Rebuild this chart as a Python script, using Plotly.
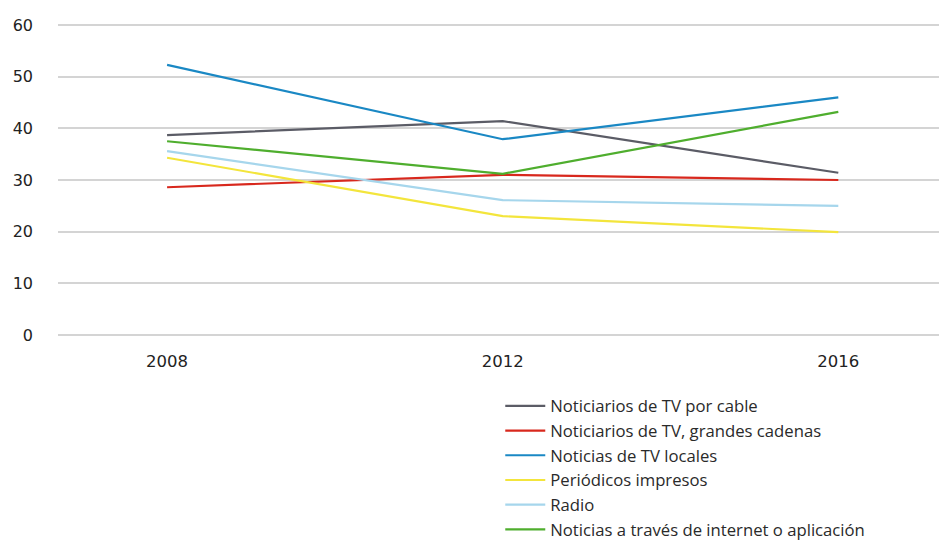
import plotly.graph_objects as go

years = ["2008", "2012", "2016"]
series_names = [
    "Noticiarios de TV por cable",
    "Noticiarios de TV, grandes cadenas",
    "Noticias de TV locales",
    "Periódicos impresos",
    "Radio",
    "Noticias a través de internet o aplicación",
]
cable = [38.7, 41.4, 31.4]
broadcast = [28.6, 31.0, 30.0]
local_tv = [52.3, 37.9, 46.0]
print_news = [34.3, 23.0, 19.9]
radio = [35.6, 26.1, 25.0]
internet = [37.5, 31.2, 43.2]
colors = ["#5b5c66", "#d8281d", "#1a88c4", "#f3e53c", "#a6d6ec", "#4fae2e"]

values = [cable, broadcast, local_tv, print_news, radio, internet]

fig = go.Figure()
for name, vals, col in zip(series_names, values, colors):
    fig.add_trace(go.Scatter(x=[0, 1, 2], y=vals, name=name, mode="lines",
                             line=dict(color=col, width=2.2)))

fnt = "DejaVu Sans, sans-serif"
fig.update_layout(
    width=939, height=543,
    margin=dict(l=58, r=0, t=23, b=206, autoexpand=False),
    paper_bgcolor="white", plot_bgcolor="white",
    font=dict(family=fnt, size=15, color="#333333"),
    showlegend=True,
    legend=dict(x=0.502, y=-0.164, xanchor="left", yanchor="top",
                font=dict(family="Open Sans, sans-serif", size=16.7, color="#2a2a2a"),
                traceorder="normal",
                itemwidth=40, tracegroupgap=0, bgcolor="rgba(0,0,0,0)"),
    xaxis=dict(tickvals=[0, 1, 2], ticktext=years, range=[-0.325, 2.3],
               showgrid=False, zeroline=False, showline=False, ticks="",
               ticklabelstandoff=12,
               tickfont=dict(family=fnt, size=16.5, color="#222222")),
    yaxis=dict(range=[-0.4, 60.4], tickvals=[0, 10, 20, 30, 40, 50, 60],
               showgrid=True, gridcolor="#d4d4d4", gridwidth=2,
               zeroline=False, showline=False, ticks="", ticklabelstandoff=24,
               tickfont=dict(family=fnt, size=16, color="#222222")),
)
fig.write_html("out.html")
